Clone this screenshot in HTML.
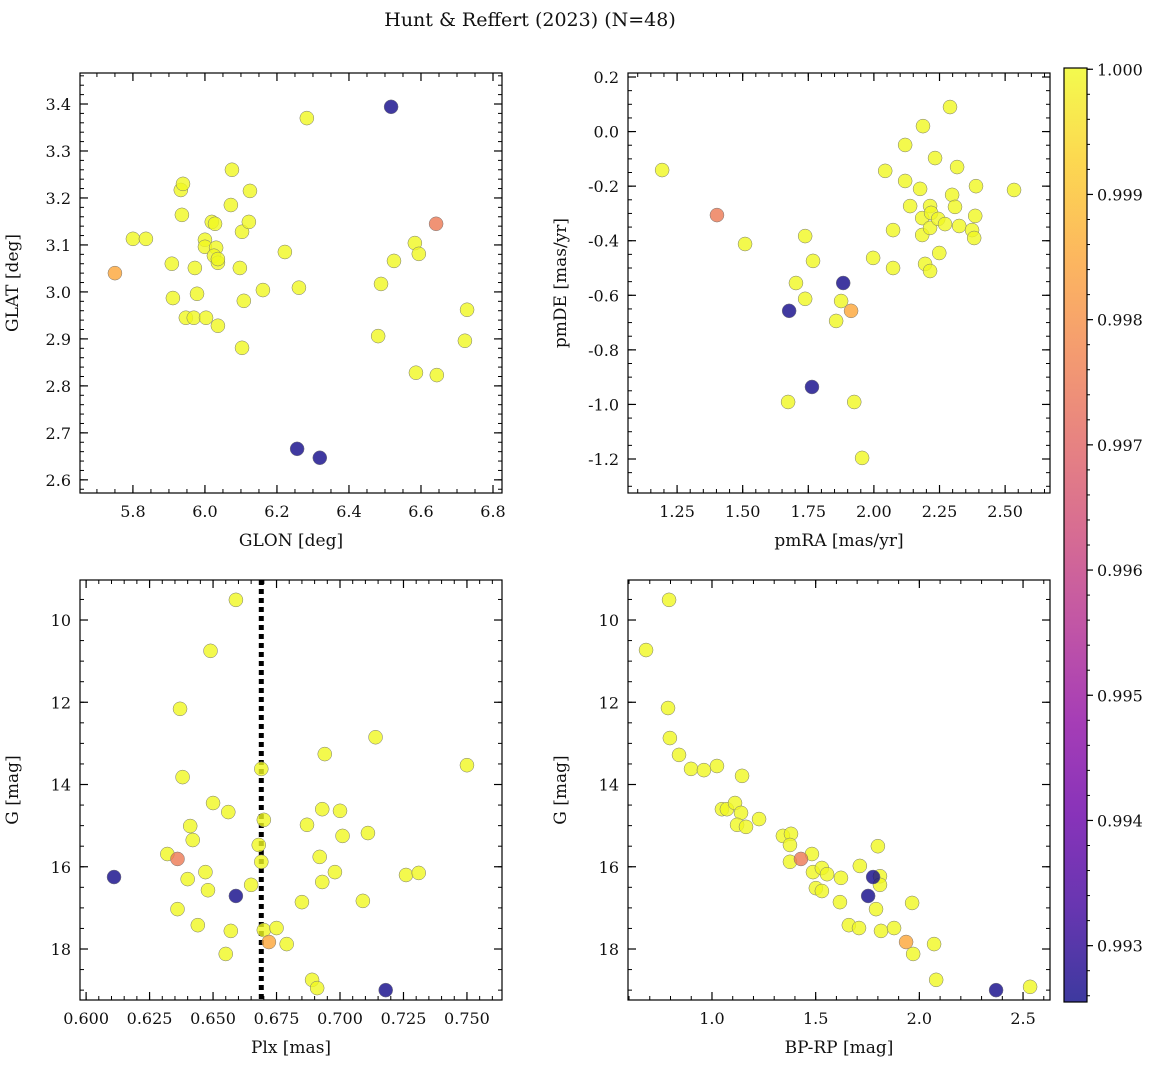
<!DOCTYPE html>
<html><head><meta charset="utf-8">
<style>
html,body{margin:0;padding:0;background:#fff;}
svg text{font-family:"DejaVu Serif","Liberation Serif",serif;fill:#111;}
</style></head>
<body>
<svg id="fig" width="1161" height="1068" viewBox="0 0 1161 1068" xmlns="http://www.w3.org/2000/svg">
<defs>
<linearGradient id="plasma" x1="0" y1="1" x2="0" y2="0">
<stop offset="0" stop-color="#0d0887"/><stop offset="0.1" stop-color="#41049d"/><stop offset="0.2" stop-color="#6a00a8"/><stop offset="0.3" stop-color="#8f0da4"/><stop offset="0.4" stop-color="#b12a90"/><stop offset="0.5" stop-color="#cc4778"/><stop offset="0.6" stop-color="#e16462"/><stop offset="0.7" stop-color="#f2844b"/><stop offset="0.8" stop-color="#fca636"/><stop offset="0.9" stop-color="#fcce25"/><stop offset="1" stop-color="#f0f921"/>
</linearGradient>
</defs>
<text x="530" y="26" font-size="19" text-anchor="middle">Hunt &amp; Reffert (2023) (N=48)</text>
</svg>
<script>
// ---- data ----
const tlGlon=[5.75,6.642,6.256,6.319,6.517,5.80,5.836,5.908,5.911,5.933,5.939,5.936,5.947,5.969,5.972,5.978,6.0,6.0,6.003,6.019,6.028,6.031,6.025,6.036,6.036,6.036,6.075,6.072,6.097,6.103,6.108,6.103,6.125,6.122,6.161,6.222,6.261,6.283,6.525,6.489,6.481,6.583,6.594,6.586,6.644,6.728,6.722];
const tlGlat=[3.04,3.145,2.666,2.647,3.394,3.113,3.113,3.06,2.987,3.217,3.230,3.164,2.945,2.945,3.051,2.996,3.111,3.096,2.945,3.149,3.145,3.094,3.077,3.062,2.928,3.07,3.26,3.185,3.051,3.128,2.981,2.881,3.215,3.149,3.004,3.085,3.009,3.37,3.066,3.017,2.906,3.104,3.081,2.828,2.823,2.962,2.896];
const tlProb=[0.9985,0.9975,0.9926,0.9926,0.9926];

const trPmra=[1.913,1.402,1.883,1.677,1.764,1.193,1.509,1.703,1.738,1.738,1.768,1.856,1.875,1.673,1.925,1.955,1.997,2.043,2.073,2.119,2.119,2.138,2.176,2.187,2.184,2.184,2.195,2.214,2.218,2.214,2.233,2.245,2.249,2.214,2.271,2.29,2.298,2.309,2.317,2.325,2.389,2.386,2.374,2.382,2.534,2.073];
const trPmde=[-0.657,-0.306,-0.555,-0.657,-0.936,-0.141,-0.412,-0.555,-0.613,-0.383,-0.474,-0.694,-0.621,-0.991,-0.991,-1.196,-0.463,-0.144,-0.5,-0.049,-0.181,-0.273,-0.21,0.02,-0.317,-0.379,-0.485,-0.273,-0.298,-0.353,-0.097,-0.32,-0.445,-0.511,-0.339,0.09,-0.232,-0.276,-0.13,-0.346,-0.2,-0.309,-0.361,-0.39,-0.214,-0.361];
const trProb=[0.9985,0.9975,0.9926,0.9926,0.9926];

const blPlx=[0.672,0.636,0.611,0.659,0.718,0.659,0.649,0.637,0.638,0.641,0.642,0.632,0.640,0.636,0.644,0.647,0.648,0.650,0.656,0.657,0.655,0.665,0.668,0.669,0.669,0.670,0.670,0.675,0.679,0.685,0.687,0.689,0.691,0.692,0.693,0.693,0.694,0.698,0.700,0.701,0.709,0.711,0.714,0.726,0.731,0.750];
const blG=[17.83,15.81,16.25,16.71,19.0,9.51,10.75,12.16,13.82,15.01,15.35,15.69,16.3,17.03,17.42,16.13,16.57,14.45,14.67,17.56,18.12,16.44,15.47,13.62,15.88,14.86,17.54,17.49,17.88,16.86,14.98,18.75,18.95,15.76,14.6,16.37,13.26,16.13,14.64,15.25,16.83,15.18,12.85,16.2,16.15,13.53];
const blProb=[0.9985,0.9975,0.9926,0.9926,0.9926];
const plxLine=0.669;

const brBprp=[1.936,1.429,1.777,1.753,2.370,0.682,0.793,0.788,0.797,0.841,0.899,0.961,1.024,1.048,1.072,1.111,1.140,1.145,1.121,1.164,1.227,1.342,1.381,1.376,1.376,1.482,1.487,1.501,1.530,1.555,1.530,1.622,1.617,1.660,1.709,1.713,1.791,1.800,1.810,1.810,1.815,1.878,1.965,1.970,2.071,2.081,2.534];
const brG=[17.83,15.81,16.25,16.71,19.0,10.73,9.51,12.14,12.87,13.28,13.62,13.65,13.55,14.6,14.6,14.45,14.69,13.79,14.98,15.03,14.84,15.25,15.2,15.47,15.88,15.69,16.13,16.52,16.03,16.18,16.59,16.27,16.86,17.42,17.49,15.98,17.03,15.5,16.23,16.44,17.56,17.49,16.88,18.12,17.88,18.75,18.92];
const brProb=[0.9985,0.9975,0.9926,0.9926,0.9926];

const cbTicks=[0.993,0.994,0.995,0.996,0.997,0.998,0.999,1.000];
const cbMin=0.99255, cbMax=1.00001;

// ---- helpers ----
const NS="http://www.w3.org/2000/svg";
const svg=document.getElementById('fig');
function mk(tag,at,parent){const e=document.createElementNS(NS,tag);for(const k in at)e.setAttribute(k,at[k]);(parent||svg).appendChild(e);return e;}
const stops=[[13,8,135],[65,4,157],[106,0,168],[143,13,164],[177,42,144],[204,71,120],[225,100,98],[242,132,75],[252,166,54],[252,206,37],[240,249,33]];
function plasma(t){t=Math.max(0,Math.min(1,t));const f=t*10,i=Math.min(9,Math.floor(f)),r=f-i;const a=stops[i],b=stops[i+1];return 'rgb('+a.map((v,k)=>Math.round(v+(b[k]-v)*r)).join(',')+')';}
function fmt(v,d){return v.toFixed(d);}

function panel(o){
  const g=mk('g',{});
  
  
  const sx=v=>o.x0+(v-o.xmin)/(o.xmax-o.xmin)*(o.x1-o.x0);
  const sy=v=>o.yinv? o.y0+(v-o.ymin)/(o.ymax-o.ymin)*(o.y1-o.y0) : o.y1-(v-o.ymin)/(o.ymax-o.ymin)*(o.y1-o.y0);
  const eps=1e-9;
  for(let v=Math.ceil(o.xmin/o.xminor-eps)*o.xminor; v<=o.xmax+eps; v+=o.xminor){
    const X=sx(v);
    mk('line',{x1:X,x2:X,y1:o.y1,y2:o.y1-4,stroke:'#000','stroke-width':1},g);
    mk('line',{x1:X,x2:X,y1:o.y0,y2:o.y0+4,stroke:'#000','stroke-width':1},g);
  }
  for(let v=Math.ceil(o.ymin/o.yminor-eps)*o.yminor; v<=o.ymax+eps; v+=o.yminor){
    const Y=sy(v);
    mk('line',{x1:o.x0,x2:o.x0+4,y1:Y,y2:Y,stroke:'#000','stroke-width':1},g);
    mk('line',{x1:o.x1,x2:o.x1-4,y1:Y,y2:Y,stroke:'#000','stroke-width':1},g);
  }
  o.xticks.forEach(v=>{
    const X=sx(v);
    mk('line',{x1:X,x2:X,y1:o.y1,y2:o.y1-8,stroke:'#000','stroke-width':1.2},g);
    mk('line',{x1:X,x2:X,y1:o.y0,y2:o.y0+8,stroke:'#000','stroke-width':1.2},g);
    const t=mk('text',{x:X,y:o.y1+24,'font-size':16,'text-anchor':'middle'},g);
    
    
    t.textContent=fmt(v,o.xd);
  });
  o.yticks.forEach(v=>{
    const Y=sy(v);
    mk('line',{x1:o.x0,x2:o.x0+8,y1:Y,y2:Y,stroke:'#000','stroke-width':1.2},g);
    mk('line',{x1:o.x1,x2:o.x1-8,y1:Y,y2:Y,stroke:'#000','stroke-width':1.2},g);
    const t=mk('text',{x:o.x0-9,y:Y+6,'font-size':16,'text-anchor':'end'},g);
    
    
    t.textContent=fmt(v,o.yd);
  });
  if(o.vline!==undefined){
    const l=mk('line',{x1:sx(o.vline),x2:sx(o.vline),y1:o.y0,y2:o.y1,stroke:'#000','stroke-width':5,'stroke-dasharray':'5,4'},g);
    
    
  }
  const idx=o.xs.map((_,i)=>i);
  idx.sort((a,b)=>(o.ps[b]??1)-(o.ps[a]??1));
  idx.forEach(i=>{
    const p=o.ps[i]??1;
    const c=mk('circle',{cx:sx(o.xs[i]),cy:sy(o.ys[i]),r:7,fill:plasma((p-cbMin)/(cbMax-cbMin)),'fill-opacity':0.8,stroke:'#777','stroke-width':0.5},g);
    
    
  });
  const f=mk('rect',{x:o.x0,y:o.y0,width:o.x1-o.x0,height:o.y1-o.y0,fill:'none',stroke:'#000','stroke-width':1.2},g);
  
  
  const xl=mk('text',{x:(o.x0+o.x1)/2,y:o.y1+53,'font-size':17,'text-anchor':'middle'},g);
  
  
  xl.textContent=o.xlabel;
  const yx=o.x0-62, yy=(o.y0+o.y1)/2;
  const yl=mk('text',{x:yx,y:yy,'font-size':17,'text-anchor':'middle',transform:`rotate(-90 ${yx} ${yy})`},g);
  
  
  yl.textContent=o.ylabel;
}

panel({name:'glon-glat-panel',x0:80,x1:502,y0:73,y1:493,xmin:5.653,xmax:6.825,ymin:2.572,ymax:3.466,
  xticks:[5.8,6.0,6.2,6.4,6.6,6.8],yticks:[2.6,2.7,2.8,2.9,3.0,3.1,3.2,3.3,3.4],xd:1,yd:1,xminor:0.05,yminor:0.02,
  xs:tlGlon,ys:tlGlat,ps:tlProb,xlabel:'GLON [deg]',ylabel:'GLAT [deg]'});
panel({name:'proper-motion-panel',x0:628,x1:1050,y0:73,y1:493,xmin:1.063,xmax:2.671,ymin:-1.3246,ymax:0.2147,
  xticks:[1.25,1.5,1.75,2.0,2.25,2.5],yticks:[-1.2,-1.0,-0.8,-0.6,-0.4,-0.2,0.0,0.2],xd:2,yd:1,xminor:0.05,yminor:0.05,
  xs:trPmra,ys:trPmde,ps:trProb,xlabel:'pmRA [mas/yr]',ylabel:'pmDE [mas/yr]'});
panel({name:'parallax-mag-panel',x0:80,x1:502,y0:580,y1:1000,xmin:0.5976,xmax:0.7638,ymin:9.027,ymax:19.24,yinv:true,
  xticks:[0.6,0.625,0.65,0.675,0.7,0.725,0.75],yticks:[10,12,14,16,18],xd:3,yd:0,xminor:0.005,yminor:0.5,
  xs:blPlx,ys:blG,ps:blProb,vline:plxLine,xlabel:'Plx [mas]',ylabel:'G [mag]'});
panel({name:'cmd-panel',x0:628,x1:1050,y0:580,y1:1000,xmin:0.595,xmax:2.630,ymin:9.027,ymax:19.24,yinv:true,
  xticks:[1.0,1.5,2.0,2.5],yticks:[10,12,14,16,18],xd:1,yd:0,xminor:0.1,yminor:0.5,
  xs:brBprp,ys:brG,ps:brProb,xlabel:'BP-RP [mag]',ylabel:'G [mag]'});

// colorbar
const cb=mk('g',{});


const cy0=68,cy1=1002,cx0=1064,cx1=1087;
const cyS=v=>cy1-(v-cbMin)/(cbMax-cbMin)*(cy1-cy0);
mk('rect',{x:cx0,y:cy0,width:cx1-cx0,height:cy1-cy0,fill:'url(#plasma)','fill-opacity':0.8},cb);
mk('rect',{x:cx0,y:cy0,width:cx1-cx0,height:cy1-cy0,fill:'none',stroke:'#000','stroke-width':1.2},cb);
for(let v=0.9926; v<=1.00001; v+=0.0002){const Y=cyS(v);mk('line',{x1:cx1,x2:cx1+3,y1:Y,y2:Y,stroke:'#000'},cb);}
cbTicks.forEach(v=>{
  const Y=cyS(v);
  mk('line',{x1:cx1,x2:cx1+6,y1:Y,y2:Y,stroke:'#000','stroke-width':1.2},cb);
  const t=mk('text',{x:cx1+10,y:Y+6,'font-size':16},cb);
  
  
  t.textContent=v.toFixed(3);
});
</script>
</body></html>
